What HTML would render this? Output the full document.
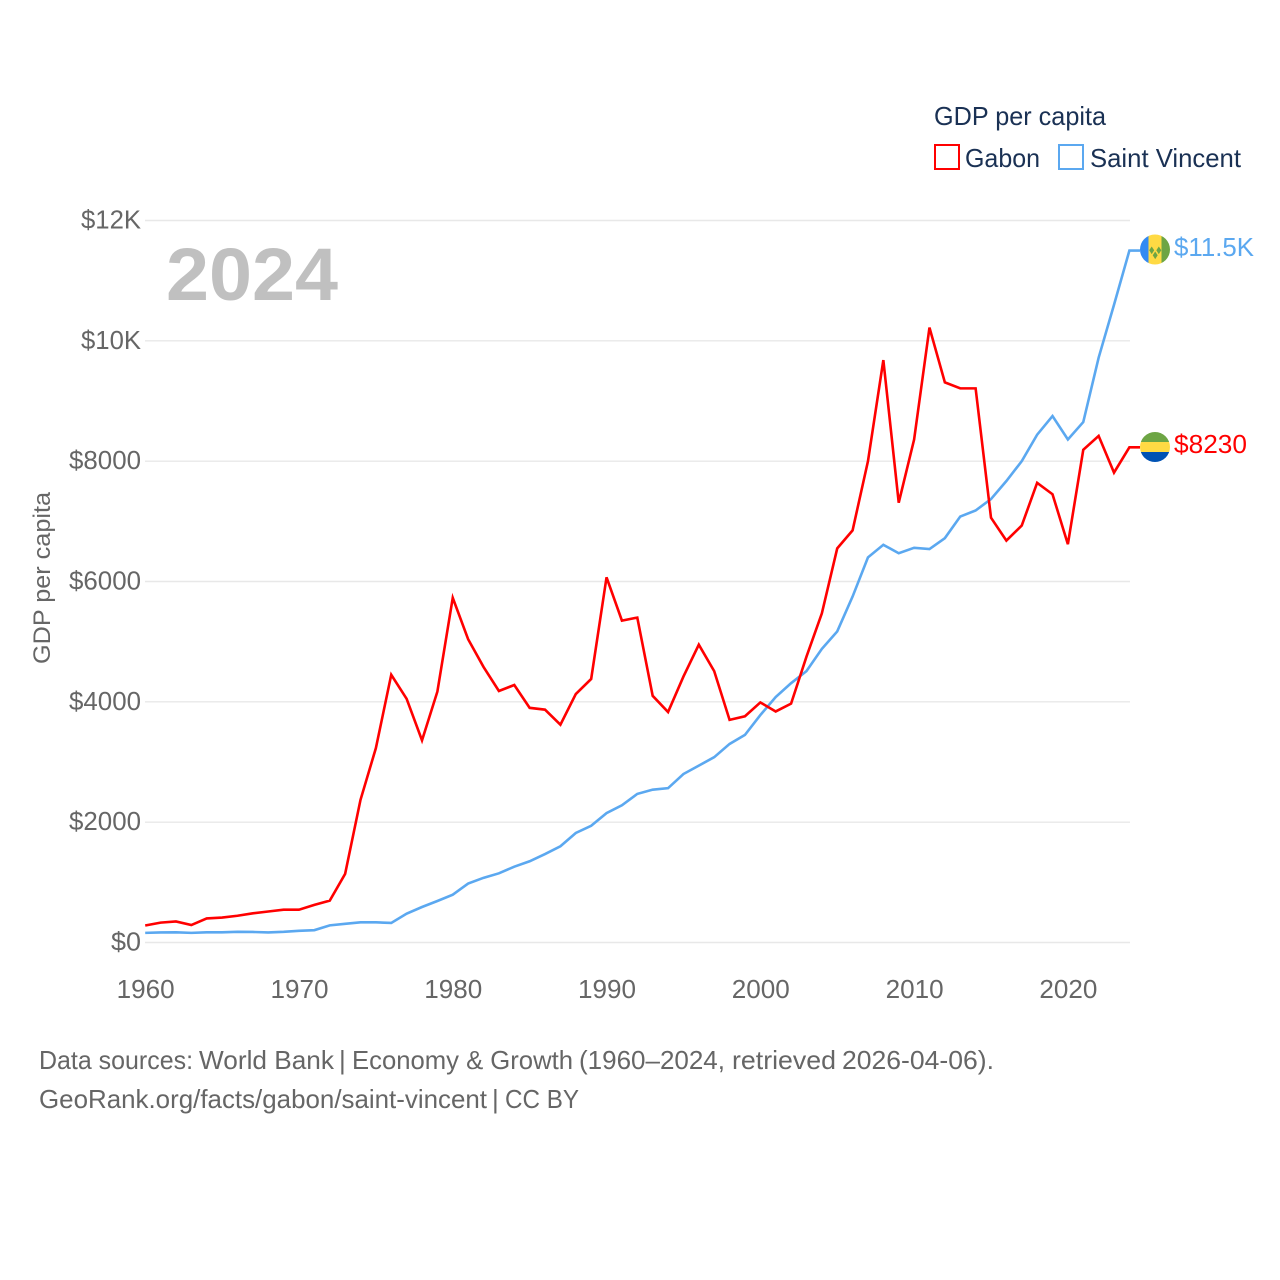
<!DOCTYPE html>
<html lang="en">
<head>
<meta charset="utf-8">
<title>GDP per capita: Gabon and Saint Vincent</title>
<style>
html,body{margin:0;padding:0;background:#fff;}
svg{display:block;}
text{font-family:"Liberation Sans",sans-serif;}
</style>
</head>
<body>
<svg id="chart" xmlns="http://www.w3.org/2000/svg" width="1280" height="1280" viewBox="0 0 1280 1280">
  <defs>
    <clipPath id="clip-vc"><circle cx="1155" cy="249.5" r="15"/></clipPath>
    <clipPath id="clip-ga"><circle cx="1155" cy="447" r="15"/></clipPath>
  </defs>
  <rect width="1280" height="1280" fill="#fff"/>
  <g id="grid"></g>
  <g id="ylabels"></g>
  <g id="xlabels"></g>
  <text x="166" y="300" font-size="74" font-weight="700" fill="#c0c0c0" textLength="172" lengthAdjust="spacingAndGlyphs">2024</text>
  <text transform="translate(50 664) rotate(-90)" x="0" y="0" font-size="24" fill="#666" textLength="172" lengthAdjust="spacingAndGlyphs">GDP per capita</text>
  <g id="series"></g>

  <g>
    <text x="934" y="125" font-size="26" fill="#1a3154" textLength="172" lengthAdjust="spacingAndGlyphs">GDP per capita</text>
    <g>
      <rect x="935" y="145" width="24" height="24" fill="#fff" stroke="#ff0000" stroke-width="2"/>
      <text x="965" y="167" font-size="26" fill="#1a3154" textLength="75" lengthAdjust="spacingAndGlyphs">Gabon</text>
    </g>
    <g>
      <rect x="1059" y="145" width="24" height="24" fill="#fff" stroke="#5ba8f0" stroke-width="2"/>
      <text x="1090" y="167" font-size="26" fill="#1a3154" textLength="151" lengthAdjust="spacingAndGlyphs">Saint Vincent</text>
    </g>
  </g>

  <g clip-path="url(#clip-vc)">
    <rect x="1140" y="234" width="8.5" height="31" fill="#338af3"/>
    <rect x="1148.5" y="234" width="13" height="31" fill="#ffda44"/>
    <rect x="1161.5" y="234" width="8.5" height="31" fill="#6da544"/>
    <polygon points="1151.7,246.5 1154.2,250.3 1151.7,254.1 1149.2,250.3" fill="#6da544"/>
    <polygon points="1158.8,246.5 1161.3,250.3 1158.8,254.1 1156.3,250.3" fill="#6da544"/>
    <polygon points="1155.2,251.5 1157.7,255.3 1155.2,259.1 1152.7,255.3" fill="#6da544"/>
  </g>
  <g clip-path="url(#clip-ga)">
    <rect x="1140" y="432" width="30" height="10" fill="#6da544"/>
    <rect x="1140" y="442" width="30" height="10" fill="#ffda44"/>
    <rect x="1140" y="452" width="30" height="10" fill="#0052b4"/>
  </g>
  <text x="1174" y="256" font-size="26" fill="#5ba8f0" textLength="80" lengthAdjust="spacingAndGlyphs">$11.5K</text>
  <text x="1174" y="453" font-size="26" fill="#ff0000" textLength="73" lengthAdjust="spacingAndGlyphs">$8230</text>

  <g font-size="26" fill="#666">
    <text x="39" y="1069" textLength="154" lengthAdjust="spacingAndGlyphs">Data sources:</text>
    <text x="199" y="1069" textLength="135" lengthAdjust="spacingAndGlyphs">World Bank</text>
    <text x="339" y="1069">|</text>
    <text x="352" y="1069" textLength="221" lengthAdjust="spacingAndGlyphs">Economy &amp; Growth</text>
    <text x="579" y="1069" textLength="146" lengthAdjust="spacingAndGlyphs">(1960–2024,</text>
    <text x="732" y="1069" textLength="104" lengthAdjust="spacingAndGlyphs">retrieved</text>
    <text x="842" y="1069" textLength="152" lengthAdjust="spacingAndGlyphs">2026-04-06).</text>
  </g>
  <g font-size="26" fill="#666">
    <text x="39" y="1108" textLength="448" lengthAdjust="spacingAndGlyphs">GeoRank.org/facts/gabon/saint-vincent</text>
    <text x="492" y="1108">|</text>
    <text x="505" y="1108" textLength="74" lengthAdjust="spacingAndGlyphs">CC BY</text>
  </g>
</svg>
<script>
const startYear = 1960;
const gabonValues = [282,330,350,290,400,415,445,485,515,545,545,625,695,1140,2370,3230,4450,4050,3360,4170,5730,5040,4580,4180,4280,3900,3870,3620,4130,4380,6070,5350,5400,4100,3830,4420,4950,4510,3700,3760,3990,3840,3970,4750,5470,6550,6850,8000,9680,7310,8360,10220,9310,9210,9210,7060,6680,6930,7640,7450,6620,8190,8420,7810,8230];
const saintVincentValues = [160,168,170,160,170,170,178,175,168,178,195,205,285,310,335,335,325,480,590,690,795,980,1075,1150,1260,1350,1470,1600,1820,1940,2150,2280,2470,2540,2565,2800,2940,3080,3300,3450,3780,4080,4310,4510,4880,5170,5750,6400,6610,6470,6560,6540,6720,7080,7180,7370,7670,8000,8440,8750,8360,8650,9720,10600,11500];
const yTickValues = [0,2000,4000,6000,8000,10000,12000];
const yTickLabels = ["$0","$2000","$4000","$6000","$8000","$10K","$12K"];
const xTickYears = [1960,1970,1980,1990,2000,2010,2020];

const svgNS = "http://www.w3.org/2000/svg";
function xScale(year) { return 145.2 + (year - 1960) * (1129.4 - 145.2) / 64; }
function yScale(value) { return 942.5 - value * (942.5 - 220.5) / 12000; }
function labelWidth(label) { return label.length === 5 ? 72 : label.length * 15; }

const gridGroup = document.getElementById("grid");
const yGroup = document.getElementById("ylabels");
const xGroup = document.getElementById("xlabels");
const seriesGroup = document.getElementById("series");

yTickValues.forEach(function (value, i) {
  const line = document.createElementNS(svgNS, "line");
  
  
  line.setAttribute("x1", 145);
  line.setAttribute("x2", 1130);
  line.setAttribute("y1", yScale(value));
  line.setAttribute("y2", yScale(value));
  line.setAttribute("stroke", "#e8e8e8");
  line.setAttribute("stroke-width", "1.4");
  gridGroup.appendChild(line);

  const text = document.createElementNS(svgNS, "text");
  
  
  text.setAttribute("x", 141);
  text.setAttribute("y", yScale(value) + 8);
  text.setAttribute("text-anchor", "end");
  text.setAttribute("font-size", "26");
  text.setAttribute("fill", "#666");
  text.setAttribute("textLength", labelWidth(yTickLabels[i]));
  text.setAttribute("lengthAdjust", "spacingAndGlyphs");
  text.textContent = yTickLabels[i];
  yGroup.appendChild(text);
});

xTickYears.forEach(function (year) {
  const text = document.createElementNS(svgNS, "text");
  
  
  text.setAttribute("x", xScale(year) + 0.5);
  text.setAttribute("y", 998);
  text.setAttribute("text-anchor", "middle");
  text.setAttribute("font-size", "26");
  text.setAttribute("fill", "#666");
  text.setAttribute("textLength", "58");
  text.setAttribute("lengthAdjust", "spacingAndGlyphs");
  text.textContent = String(year);
  xGroup.appendChild(text);
});

function linePoints(values) {
  const pts = values.map(function (v, i) {
    return xScale(startYear + i).toFixed(2) + "," + yScale(v).toFixed(2);
  });
  pts.push("1140," + yScale(values[values.length - 1]).toFixed(2));
  return pts.join(" ");
}

const saintVincentLine = document.createElementNS(svgNS, "polyline");


saintVincentLine.setAttribute("points", linePoints(saintVincentValues));
saintVincentLine.setAttribute("fill", "none");
saintVincentLine.setAttribute("stroke", "#5ba8f0");
saintVincentLine.setAttribute("stroke-width", "2.6");
seriesGroup.appendChild(saintVincentLine);

const gabonLine = document.createElementNS(svgNS, "polyline");


gabonLine.setAttribute("points", linePoints(gabonValues));
gabonLine.setAttribute("fill", "none");
gabonLine.setAttribute("stroke", "#ff0000");
gabonLine.setAttribute("stroke-width", "2.6");
seriesGroup.appendChild(gabonLine);
</script>
</body>
</html>
